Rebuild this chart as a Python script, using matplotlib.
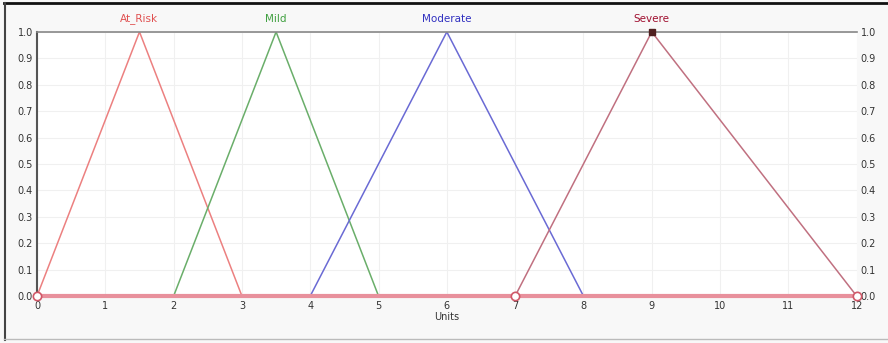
import matplotlib.pyplot as plt
import numpy as np
from matplotlib.lines import Line2D

names = ["At_Risk", "Mild", "Moderate", "Severe"]
x_pts = [[0, 1.5, 3], [2, 3.5, 5], [4, 6, 8], [7, 9, 12]]
y_pts = [0, 1, 0]
line_colors = ["#ec8080", "#6aae6a", "#6a6ad4", "#c07080"]
label_colors = ["#e05050", "#40a040", "#3030c0", "#a01030"]
xticks = list(range(0, 13))
yticks = [0.0, 0.1, 0.2, 0.3, 0.4, 0.5, 0.6, 0.7, 0.8, 0.9, 1.0]

fig = plt.figure(figsize=(8.88, 3.43), dpi=100, facecolor="#f8f8f8")
# window frame: dark top and left, light bottom
fig.lines.append(Line2D([0.005, 1.0], [0.991, 0.991], transform=fig.transFigure, color="#111111", lw=2))
fig.lines.append(Line2D([0.006, 0.006], [0.01, 0.991], transform=fig.transFigure, color="#444444", lw=1.5))
fig.lines.append(Line2D([0.005, 1.0], [0.011, 0.011], transform=fig.transFigure, color="#bbbbbb", lw=1))

ax = fig.add_axes([0.0417, 0.137, 0.923, 0.77])
ax.set_facecolor("white")

for xs, c in zip(x_pts, line_colors):
    ax.plot(xs, y_pts, color=c, lw=1.1)

# baseline
ax.plot([0, 12], [0, 0], color="#e8909c", lw=3, zorder=3, clip_on=False)
ax.plot([0, 7, 12], [0, 0, 0], "o", ms=6, mfc="white", mec="#d05868", mew=1.2,
        zorder=4, clip_on=False)
ax.plot([9], [1], "s", ms=5, color="#502020", zorder=4, clip_on=False)

for n, xs, c in zip(names, x_pts, label_colors):
    ax.text(xs[1], 1.05, n, color=c, ha="center", va="center", fontsize=7.5,
            clip_on=False)

ax.set_xlim(0, 12)
ax.set_ylim(0, 1)
ax.set_xticks(xticks)
ax.set_yticks(yticks)
ax.set_yticklabels([f"{v:.1f}" for v in yticks])
ax.tick_params(axis="both", labelsize=7, length=0, colors="#333333")
ax.tick_params(axis="y", right=True, labelright=True, pad=3)
ax.grid(color="#f0f0f0", lw=0.8)
ax.set_xlabel("Units", fontsize=7, labelpad=1, color="#333333")
for s in ["right", "bottom"]:
    ax.spines[s].set_visible(False)
ax.spines["left"].set_color("#555555")
ax.spines["top"].set_color("#888888")
ax.spines["left"].set_linewidth(1.5)
ax.spines["top"].set_linewidth(1.2)

fig.savefig("out.png", dpi=100, facecolor=fig.get_facecolor())
